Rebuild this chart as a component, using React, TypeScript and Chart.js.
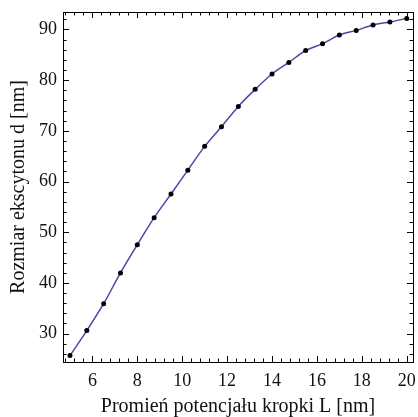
import React, { useEffect, useRef } from "react";
import { Chart, registerables } from "chart.js";
Chart.register(...registerables);

const xValues = [5, 5.75, 6.5, 7.25, 8, 8.75, 9.5, 10.25, 11, 11.75, 12.5, 13.25, 14, 14.75, 15.5, 16.25, 17, 17.75, 18.5, 19.25, 20];
const dValues = [25.66, 30.6, 35.9, 41.97, 47.55, 52.88, 57.55, 62.25, 66.94, 70.83, 74.83, 78.19, 81.22, 83.5, 85.85, 87.2, 88.9, 89.82, 90.89, 91.48, 92.19];
const xTicks = [6, 8, 10, 12, 14, 16, 18, 20];
const yTicks = [30, 40, 50, 60, 70, 80, 90];
const xTitle = "Promień potencjału kropki L [nm]";
const yTitle = "Rozmiar ekscytonu d [nm]";

const X_MIN = 4.69, X_MAX = 20.28, Y_MIN = 24.4, Y_MAX = 93.45;
const X_MINOR = 0.4, Y_MINOR = 2;

const framePlugin = {
  id: "frameTicks",
  afterDraw(chart: any) {
    const { ctx, chartArea: a, scales } = chart;
    const xs = scales.x, ys = scales.y;
    ctx.save();
    ctx.strokeStyle = "#000";
    ctx.lineWidth = 1;
    ctx.beginPath();
    const maj = 6, mnr = 3.5;
    for (let i = Math.ceil(X_MIN / X_MINOR); i * X_MINOR <= X_MAX + 1e-9; i++) {
      const v = i * X_MINOR;
      const isMajor = Math.abs(v / 2 - Math.round(v / 2)) < 1e-6;
      const len = isMajor ? maj : mnr;
      const px = Math.round(xs.getPixelForValue(v)) + 0.5;
      ctx.moveTo(px, a.bottom);
      ctx.lineTo(px, a.bottom - len);
      ctx.moveTo(px, a.top);
      ctx.lineTo(px, a.top + len);
    }
    for (let i = Math.ceil(Y_MIN / Y_MINOR); i * Y_MINOR <= Y_MAX + 1e-9; i++) {
      const v = i * Y_MINOR;
      const isMajor = Math.abs(v / 10 - Math.round(v / 10)) < 1e-6;
      const len = isMajor ? maj : mnr;
      const py = Math.round(ys.getPixelForValue(v)) + 0.5;
      ctx.moveTo(a.left, py);
      ctx.lineTo(a.left + len, py);
      ctx.moveTo(a.right, py);
      ctx.lineTo(a.right - len, py);
    }
    ctx.stroke();
    ctx.strokeRect(Math.round(a.left) + 0.5, Math.round(a.top) + 0.5, Math.round(a.right - a.left), Math.round(a.bottom - a.top));
    ctx.restore();
  },
};

export default function App() {
  const ref = useRef<HTMLCanvasElement>(null);
  useEffect(() => {
    document.body.style.margin = "0";
    const family = "'Liberation Serif', 'DejaVu Serif', serif";
    const tickFont = { family, size: 18 };
    const titleFont = { family, size: 20 };
    const chart = new Chart(ref.current!, {
      type: "line",
      data: {
        datasets: [
          {
            data: xValues.map((x, i) => ({ x, y: dValues[i] })),
            borderColor: "rgb(72, 72, 170)",
            borderWidth: 1.5,
            pointBackgroundColor: "#000",
            pointBorderColor: "#000",
            pointRadius: 2.5,
            pointBorderWidth: 0,
            cubicInterpolationMode: "monotone",
            clip: false as any,
          },
        ],
      },
      options: {
        animation: false,
        responsive: false,
        layout: { padding: { left: 0, right: 5, top: 12, bottom: 0 } },
        plugins: { legend: { display: false }, tooltip: { enabled: false } },
        scales: {
          x: {
            type: "linear",
            min: X_MIN,
            max: X_MAX,
            afterBuildTicks: (s: any) => { s.ticks = xTicks.map((v) => ({ value: v })); },
            afterFit: (s: any) => { s.height = 55; s.paddingLeft = 0; s.paddingRight = 0; },
            grid: { display: false, drawTicks: false },
            border: { display: false },
            ticks: { color: "#111", font: tickFont, padding: 8, maxRotation: 0, autoSkip: false },
            title: { display: true, text: xTitle, color: "#111", font: titleFont, padding: { top: 0, bottom: -2 } },
          },
          y: {
            type: "linear",
            min: Y_MIN,
            max: Y_MAX,
            afterBuildTicks: (s: any) => { s.ticks = yTicks.map((v) => ({ value: v })); },
            afterFit: (s: any) => { s.width = 63; s.paddingTop = 0; s.paddingBottom = 0; },
            grid: { display: false, drawTicks: false },
            border: { display: false },
            ticks: { color: "#111", font: tickFont, padding: 6, autoSkip: false },
            title: { display: true, text: yTitle, color: "#111", font: titleFont, padding: { top: 7, bottom: 0 } },
          },
        },
      },
      plugins: [framePlugin],
    } as any);
    return () => chart.destroy();
  }, []);
  return (
    <div style={{ width: 418, height: 417 }}>
      <canvas ref={ref} width={418} height={417} style={{ display: "block" }} />
    </div>
  );
}
